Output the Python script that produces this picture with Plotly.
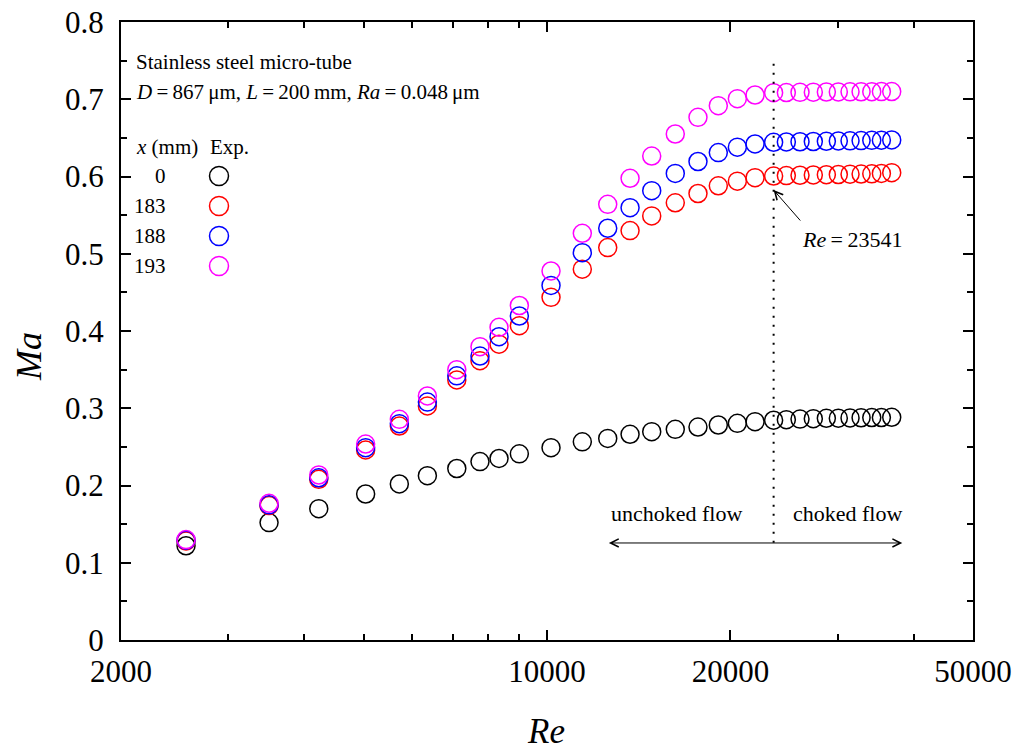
import math
import plotly.graph_objects as go

# ---- data ----
re_vals = [2557, 3499, 4222, 5040, 5724, 6364, 7112, 7763, 8342, 9008, 10153,
           11427, 12579, 13686, 14853, 16236, 17690, 19102, 20527, 21946, 23541,
           24700, 26010, 27350, 28730, 30060, 31420, 32760, 34110, 35370, 36780]

ma_x0 = [0.122, 0.152, 0.170, 0.189, 0.202, 0.2127, 0.222, 0.231, 0.235, 0.241, 0.249,
         0.2565, 0.261, 0.2663, 0.2697, 0.2727, 0.2757, 0.2783, 0.2805, 0.2826, 0.2845,
         0.2852, 0.286, 0.2865, 0.287, 0.2872, 0.2875, 0.2877, 0.288, 0.288, 0.2883]

ma_x183 = [0.128, 0.174, 0.208, 0.246, 0.277, 0.303, 0.3366, 0.3616, 0.383, 0.4069, 0.4436,
           0.480, 0.508, 0.530, 0.549, 0.566, 0.578, 0.588, 0.594, 0.5985, 0.6006,
           0.6012, 0.6016, 0.602, 0.6023, 0.6026, 0.603, 0.6032, 0.6035, 0.604, 0.605]

ma_x188 = [0.129, 0.175, 0.210, 0.249, 0.280, 0.308, 0.342, 0.3676, 0.3926, 0.4194, 0.459,
           0.5014, 0.533, 0.5597, 0.5817, 0.604, 0.6194, 0.631, 0.638, 0.6421, 0.6443,
           0.6447, 0.645, 0.6453, 0.6456, 0.646, 0.6462, 0.6465, 0.6468, 0.647, 0.6473]

ma_x193 = [0.130, 0.177, 0.2136, 0.2537, 0.2857, 0.3159, 0.350, 0.3797, 0.4048, 0.433, 0.4777,
           0.5265, 0.564, 0.5977, 0.6265, 0.655, 0.6766, 0.6917, 0.7008, 0.7055, 0.7085,
           0.7087, 0.709, 0.7092, 0.7094, 0.7095, 0.7096, 0.7097, 0.7098, 0.7099, 0.710]

series_labels = ["0", "183", "188", "193"]
series_colors = ["#000000", "#ff0000", "#0000ff", "#ff00ff"]
series_values = [ma_x0, ma_x183, ma_x188, ma_x193]

x_tickvals = [2000, 10000, 20000, 50000]
x_ticktext = ["2000", "10000", "20000", "50000"]
x_minor = [3000, 4000, 5000, 6000, 7000, 8000, 9000, 30000, 40000]
y_tickvals = [0, 0.1, 0.2, 0.3, 0.4, 0.5, 0.6, 0.7, 0.8]
y_ticktext = ["0", "0.1", "0.2", "0.3", "0.4", "0.5", "0.6", "0.7", "0.8"]

re_choke = 23541
re_arrow_left = 12560
re_arrow_right = 38280
ma_arrow = 0.1256

FONT = "Liberation Serif"

fig = go.Figure()
for lab, col, vals in zip(series_labels, series_colors, series_values):
    fig.add_trace(go.Scatter(
        x=re_vals, y=vals, mode="markers", name=lab,
        marker=dict(symbol="circle-open", size=18, color=col, line=dict(color=col, width=1.5)),
        showlegend=False))

W, H = 1021, 755
# plot area in pixels: x 121..973, y 22..640
L, T = 121, 22
PW, PH = 852, 618
R = W - L - PW
B = H - T - PH


def px(xp):
    return (xp - L) / PW


def py(yp):
    return (T + PH - yp) / PH


annotations = []
shapes = []

# header text
annotations.append(dict(xref="paper", yref="paper", x=px(134), y=py(62), xanchor="left", yanchor="middle",
                        text="Stainless steel micro-tube", showarrow=False,
                        font=dict(family=FONT, size=21, color="black")))
annotations.append(dict(xref="paper", yref="paper", x=px(134), y=py(92), xanchor="left", yanchor="middle",
                        text="<i>D</i>\u2009=\u2009867\u2009\u03bcm, <i>L</i>\u2009=\u2009200\u2009mm, "
                             "<i>Ra</i>\u2009=\u20090.048\u2009\u03bcm",
                        showarrow=False, font=dict(family=FONT, size=21, color="black")))
# custom legend
annotations.append(dict(xref="paper", yref="paper", x=px(134), y=py(147), xanchor="left", yanchor="middle",
                        text="<i>x</i> (mm)", showarrow=False, font=dict(family=FONT, size=21, color="black")))
annotations.append(dict(xref="paper", yref="paper", x=px(208), y=py(147), xanchor="left", yanchor="middle",
                        text="Exp.", showarrow=False, font=dict(family=FONT, size=21, color="black")))
leg_y = [176, 206, 236, 266]
for lab, col, yy in zip(series_labels, series_colors, leg_y):
    annotations.append(dict(xref="paper", yref="paper", x=px(168), y=py(yy), xanchor="right", yanchor="middle",
                            text=lab, showarrow=False, font=dict(family=FONT, size=21, color="black")))
    shapes.append(dict(type="circle", xref="paper", yref="paper", xsizemode="pixel", ysizemode="pixel",
                       xanchor=px(219), yanchor=py(yy), x0=-9.5, x1=9.5, y0=-9.5, y1=9.5,
                       line=dict(color=col, width=1.5)))

# dotted vertical line at choke Re
shapes.append(dict(type="line", xref="x", yref="y", x0=re_choke, x1=re_choke, y0=0.126, y1=0.747,
                   line=dict(color="black", width=2, dash="2px,7px")))

# Re = 23541 label and arrow
annotations.append(dict(xref="x", yref="y", x=math.log10(re_choke), y=0.5825, ax=28, ay=32,
                        text="", showarrow=True, arrowhead=5, arrowsize=1.6, arrowwidth=1, arrowcolor="black"))
annotations.append(dict(xref="paper", yref="paper", x=px(800), y=py(239), xanchor="left", yanchor="middle",
                        text="<i>Re</i>\u2009=\u200923541", showarrow=False,
                        font=dict(family=FONT, size=22, color="black")))

# flow regime arrow and labels
annotations.append(dict(xref="x", yref="y", x=math.log10(re_arrow_right), y=ma_arrow,
                        axref="x", ayref="y", ax=math.log10(re_arrow_left), ay=ma_arrow,
                        text="", showarrow=True, arrowside="end+start", arrowhead=5, startarrowhead=5,
                        arrowsize=1.6, startarrowsize=1.6, arrowwidth=1, arrowcolor="black"))
annotations.append(dict(xref="paper", yref="paper", x=px(676), y=py(513), xanchor="center", yanchor="middle",
                        text="unchoked flow", showarrow=False, font=dict(family=FONT, size=22, color="black")))
annotations.append(dict(xref="paper", yref="paper", x=px(847), y=py(513), xanchor="center", yanchor="middle",
                        text="choked flow", showarrow=False, font=dict(family=FONT, size=22, color="black")))

# axis titles as annotations (fixed positions)
annotations.append(dict(xref="paper", yref="paper", x=px(546), y=py(731), xanchor="center", yanchor="middle",
                        text="<i>Re</i>", showarrow=False, font=dict(family=FONT, size=35, color="black")))
annotations.append(dict(xref="paper", yref="paper", x=px(29), y=py(357), xanchor="center", yanchor="middle",
                        text="<i>Ma</i>", textangle=-90, showarrow=False,
                        font=dict(family=FONT, size=36, color="black")))

fig.update_layout(
    width=W, height=H,
    margin=dict(l=L, r=R, t=T, b=B, pad=0, autoexpand=False),
    paper_bgcolor="white", plot_bgcolor="white",
    font=dict(family=FONT, color="black"),
    annotations=annotations, shapes=shapes,
    xaxis=dict(type="log", range=[math.log10(2000), math.log10(50000)], automargin=False,
               tickmode="array", tickvals=x_tickvals, ticktext=x_ticktext,
               ticks="inside", ticklen=10, tickwidth=2, tickcolor="black",
               minor=dict(tickmode="array", tickvals=x_minor, ticks="inside", ticklen=6, tickwidth=1.5,
                          tickcolor="black", showgrid=False),
               showline=True, linewidth=2, linecolor="black", mirror="allticks",
               showgrid=False, zeroline=False, ticklabeloverflow="allow",
               tickfont=dict(family=FONT, size=31, color="black"), ticklabelstandoff=3),
    yaxis=dict(range=[0, 0.8], tickmode="array", tickvals=y_tickvals, ticktext=y_ticktext, automargin=False,
               ticks="inside", ticklen=10, tickwidth=2, tickcolor="black",
               minor=dict(dtick=0.05, ticks="inside", ticklen=6, tickwidth=1.5, tickcolor="black", showgrid=False),
               showline=True, linewidth=2, linecolor="black", mirror="allticks",
               showgrid=False, zeroline=False, ticklabeloverflow="allow",
               tickfont=dict(family=FONT, size=31, color="black"), ticklabelstandoff=9),
)

# remove the browser's default 8px body margin so the figure fills the window exactly
fig.write_html("out.html", config={"displayModeBar": False},
               post_script="document.body.style.margin='0';document.body.style.overflow='hidden';")
